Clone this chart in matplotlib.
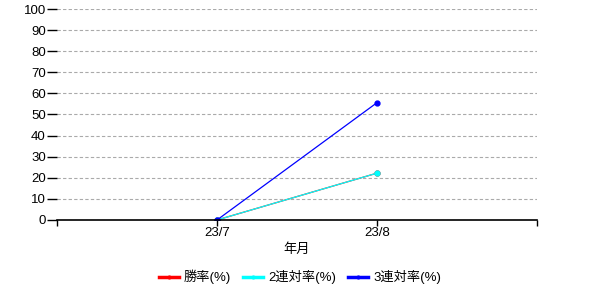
import matplotlib

matplotlib.use("Agg")
import matplotlib.pyplot as plt

plt.rcParams["font.family"] = ["Liberation Sans", "Noto Sans CJK JP", "DejaVu Sans"]

# data
months = ["23/7", "23/8"]
win_rate = [0.0, 22.2]
top2_rate = [0.0, 22.2]
top3_rate = [0.0, 55.6]
series_names = ["勝率(%)", "2連対率(%)", "3連対率(%)"]
series_colors = ["red", "cyan", "blue"]

fig = plt.figure(figsize=(6, 3), dpi=100)
ax = fig.add_axes([0.095, 0.2667, 0.80, 0.7033])

x = [1, 2]
for vals, name, col in zip([win_rate, top2_rate, top3_rate], series_names, series_colors):
    ax.plot(x, vals, color=col, lw=0.9, marker="o", ms=3.5, label=name)

ax.set_xlim(0, 3)
ax.set_ylim(0, 100)
ax.set_yticks(range(0, 101, 10))
ax.set_xticks([0, 1, 2, 3])
ax.set_xticklabels(["", months[0], months[1], ""])
ax.tick_params(axis="y", length=7, width=1, labelsize=9.5, pad=1)
ax.tick_params(axis="x", length=4, width=1, labelsize=9.5, pad=1)
ax.grid(axis="y", color="#aaaaaa", ls=(0, (3, 2)), lw=0.8)
ax.set_axisbelow(True)

for side in ["top", "right", "left"]:
    ax.spines[side].set_visible(False)
ax.spines["bottom"].set_linewidth(1.2)

ax.set_xlabel("年月", fontsize=9.5, labelpad=3)

handles, labels = ax.get_legend_handles_labels()
leg = fig.legend(
    handles,
    labels,
    loc="center",
    bbox_to_anchor=(0.5, 0.077),
    ncol=3,
    frameon=False,
    fontsize=9.5,
    handlelength=1.5,
    handletextpad=0.4,
    columnspacing=0.9,
)
for h in leg.legend_handles:
    h.set_linewidth(2.5)
    h.set_markersize(2)

fig.savefig("out.png", dpi=100)
